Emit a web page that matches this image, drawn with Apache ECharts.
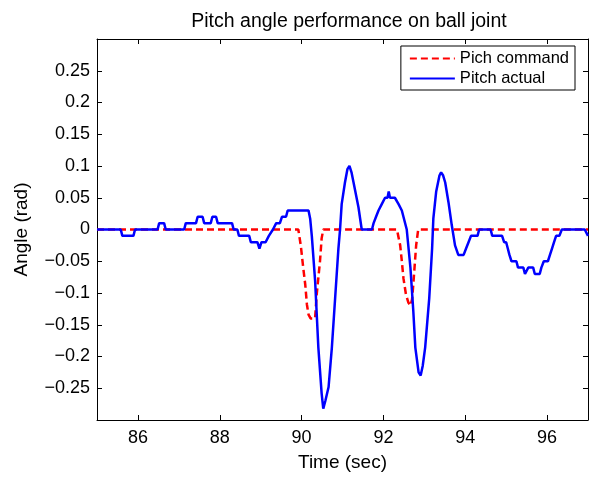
<!DOCTYPE html>
<html>
<head>
<meta charset="utf-8">
<script src="https://cdn.jsdelivr.net/npm/echarts@6/dist/echarts.min.js"></script>
<style>html,body{margin:0;padding:0;background:#fff}#c{width:589px;height:477px}</style>
</head>
<body>
<div id="c"></div>
<script>
const xTicks = [86, 88, 90, 92, 94, 96];
const yTicks = [-0.25, -0.2, -0.15, -0.1, -0.05, 0, 0.05, 0.1, 0.15, 0.2, 0.25];

const actualTime = [85.0,85.58,85.62,85.89,85.93,86.48,86.52,86.64,86.68,87.13,87.17,87.42,87.46,87.58,87.62,87.78,87.82,87.91,87.95,88.30,88.34,88.43,88.47,88.72,88.76,88.92,88.97,89.02,89.12,89.2,89.3,89.38,89.47,89.52,89.62,89.66,90.17,90.21,90.25,90.33,90.41,90.49,90.53,90.58,90.66,90.74,90.82,90.9,90.94,90.98,91.06,91.12,91.17,91.22,91.27,91.39,91.47,91.72,91.76,91.82,91.88,91.96,92.04,92.1,92.13,92.16,92.28,92.37,92.45,92.51,92.57,92.61,92.66,92.73,92.78,92.86,92.91,92.96,93.02,93.12,93.19,93.22,93.29,93.37,93.41,93.46,93.51,93.59,93.67,93.75,93.83,93.96,94.02,94.08,94.14,94.3,94.34,94.62,94.66,94.9,94.95,95.0,95.04,95.08,95.13,95.25,95.29,95.42,95.46,95.5,95.54,95.66,95.7,95.82,95.86,95.92,96.02,96.07,96.12,96.17,96.22,96.3,96.36,96.92,97.0];
const actualValue = [0,0,-0.01,-0.01,0,0,0.01,0.01,0,0,0.01,0.01,0.02,0.02,0.01,0.01,0.02,0.02,0.01,0.01,0,0,-0.01,-0.01,-0.02,-0.02,-0.03,-0.02,-0.02,-0.01,0,0.01,0.01,0.02,0.02,0.03,0.03,0.017,-0.01,-0.08,-0.186,-0.258,-0.282,-0.27,-0.248,-0.186,-0.108,-0.03,0,0.04,0.074,0.095,0.1,0.09,0.074,0.035,0,0,0.01,0.02,0.03,0.04,0.05,0.05,0.06,0.05,0.05,0.04,0.03,0.015,0,0,-0.06,-0.128,-0.186,-0.225,-0.23,-0.215,-0.186,-0.108,-0.03,0.017,0.06,0.085,0.09,0.085,0.074,0.043,0.007,-0.025,-0.04,-0.04,-0.03,-0.02,-0.01,-0.01,0,0,-0.01,-0.01,-0.02,-0.02,-0.03,-0.04,-0.05,-0.05,-0.06,-0.06,-0.07,-0.07,-0.06,-0.06,-0.07,-0.07,-0.06,-0.05,-0.05,-0.04,-0.03,-0.02,-0.01,-0.01,0,0,-0.01];

const commandTime = [85.0,89.92,89.98,90.04,90.09,90.13,90.17,90.22,90.33,90.37,90.45,90.49,90.53,92.33,92.41,92.45,92.49,92.55,92.61,92.66,92.7,92.73,92.8,92.85,97.0];
const commandValue = [0,0,-0.025,-0.06,-0.087,-0.118,-0.134,-0.14,-0.14,-0.102,-0.05,-0.014,0,0,-0.025,-0.05,-0.077,-0.102,-0.115,-0.12,-0.11,-0.087,-0.025,0,0];

const pair = (t, v) => t.map((x, i) => [x, v[i]]);
const fmt = v => (v < 0 ? '\u2212' + String(-v) : String(v));
const FONT = 'Liberation Sans';

const chart = echarts.init(document.getElementById('c'), null, {renderer: 'canvas'});
const tick = vals => ({show: true, inside: true, length: 5, customValues: vals, lineStyle: {color: '#000', width: 1}});
chart.setOption({
  animation: false,
  backgroundColor: '#fff',
  title: {
    text: 'Pitch angle performance on ball joint',
    left: 344, top: 7, textAlign: 'center',
    textStyle: {fontFamily: FONT, fontSize: 19.5, fontWeight: 'normal', color: '#000'}
  },
  grid: {left: 97, right: 1, top: 39, bottom: 54, containLabel: false},
  legend: {
    orient: 'vertical', right: 14, top: 46,
    itemWidth: 45, itemHeight: 14, itemGap: 3,
    padding: [4, 6, 3, 8],
    borderColor: '#000', borderWidth: 1, backgroundColor: '#fff',
    itemStyle: {opacity: 0},
    textStyle: {fontFamily: FONT, fontSize: 16.5, color: '#000'},
    data: ['Pich command', 'Pitch actual']
  },
  xAxis: [{
    type: 'value', min: 85, max: 97, position: 'bottom',
    name: 'Time (sec)', nameLocation: 'middle', nameGap: 33,
    nameTextStyle: {fontFamily: FONT, fontSize: 19, color: '#000'},
    axisLine: {show: true, onZero: false, lineStyle: {color: '#000', width: 1}},
    axisTick: tick(xTicks),
    axisLabel: {customValues: xTicks, fontFamily: FONT, fontSize: 18, color: '#000', margin: 9},
    splitLine: {show: false}
  }, {
    type: 'value', min: 85, max: 97, position: 'top',
    axisLine: {show: true, onZero: false, lineStyle: {color: '#000', width: 1}},
    axisTick: tick(xTicks),
    axisLabel: {show: false}, splitLine: {show: false}
  }],
  yAxis: [{
    type: 'value', min: -0.3, max: 0.3, position: 'left',
    name: 'Angle (rad)', nameLocation: 'middle', nameGap: 66, nameRotate: 90,
    nameTextStyle: {fontFamily: FONT, fontSize: 19, color: '#000'},
    axisLine: {show: true, onZero: false, lineStyle: {color: '#000', width: 1}},
    axisTick: tick(yTicks),
    axisLabel: {customValues: yTicks, formatter: fmt, fontFamily: FONT, fontSize: 18, color: '#000', margin: 7},
    splitLine: {show: false}
  }, {
    type: 'value', min: -0.3, max: 0.3, position: 'right',
    axisLine: {show: true, onZero: false, lineStyle: {color: '#000', width: 1}},
    axisTick: tick(yTicks),
    axisLabel: {show: false}, splitLine: {show: false}
  }],
  series: [{
    name: 'Pich command', type: 'line', xAxisIndex: 0, yAxisIndex: 0,
    data: pair(commandTime, commandValue),
    showSymbol: false, symbol: 'none', z: 2,
    itemStyle: {color: '#ff0000'},
    lineStyle: {color: '#ff0000', width: 2.5, type: [7, 4]}
  }, {
    name: 'Pitch actual', type: 'line', xAxisIndex: 0, yAxisIndex: 0,
    data: pair(actualTime, actualValue),
    showSymbol: false, symbol: 'none', z: 3,
    itemStyle: {color: '#0000ff'},
    lineStyle: {color: '#0000ff', width: 2.5}
  }]
});
</script>
</body>
</html>
